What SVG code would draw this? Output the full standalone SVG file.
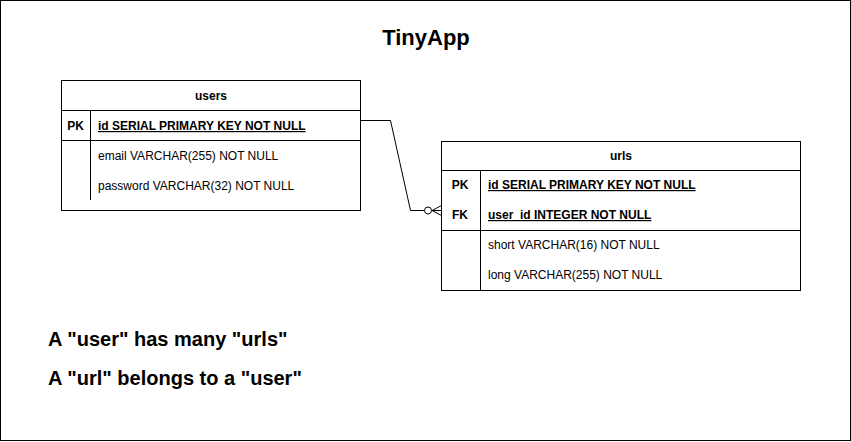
<svg xmlns="http://www.w3.org/2000/svg" width="851" height="442" viewBox="0 0 851 442">
<style>
.box{fill:#fff;stroke:#000;stroke-width:1}
.ln{stroke:#000;stroke-width:1;fill:none}
.t{font-family:"Liberation Sans",Arial,Helvetica,sans-serif;font-size:12px;fill:#000}
.b{font-weight:bold}
.u{text-decoration:underline}
.big{font-family:"Liberation Sans",Arial,Helvetica,sans-serif;font-weight:bold;fill:#000}
</style>
<rect x="0.5" y="0.5" width="850" height="440" fill="#fff" stroke="#000" stroke-width="1"/>
<text class="big" x="426" y="45" font-size="22" text-anchor="middle">TinyApp</text>
<g id="users">
<rect class="box" x="61.5" y="80.5" width="299" height="130"/>
<line class="ln" x1="61.5" y1="110.5" x2="360.5" y2="110.5"/>
<line class="ln" x1="61.5" y1="140.5" x2="360.5" y2="140.5"/>
<line class="ln" x1="90.5" y1="110.5" x2="90.5" y2="200"/>
<text class="t b" x="211" y="100" text-anchor="middle">users</text>
<text class="t b" x="75.5" y="130" text-anchor="middle">PK</text>
<text class="t b u" x="98" y="130">id SERIAL PRIMARY KEY NOT NULL</text>
<text class="t" x="98" y="160">email VARCHAR(255) NOT NULL</text>
<text class="t" x="98" y="190">password VARCHAR(32) NOT NULL</text>
</g>
<g id="urls">
<rect class="box" x="441.5" y="141.5" width="359" height="149"/>
<line class="ln" x1="441.5" y1="170.5" x2="800.5" y2="170.5"/>
<line class="ln" x1="441.5" y1="230.5" x2="800.5" y2="230.5"/>
<line class="ln" x1="480.5" y1="170.5" x2="480.5" y2="290.5"/>
<text class="t b" x="621" y="160" text-anchor="middle">urls</text>
<text class="t b" x="460" y="189" text-anchor="middle">PK</text>
<text class="t b u" x="488" y="189">id SERIAL PRIMARY KEY NOT NULL</text>
<text class="t b" x="460" y="219" text-anchor="middle">FK</text>
<text class="t b u" x="488" y="219">user_id INTEGER NOT NULL</text>
<text class="t" x="488" y="249">short VARCHAR(16) NOT NULL</text>
<text class="t" x="488" y="279">long VARCHAR(255) NOT NULL</text>
</g>
<g id="connectors">
<path class="ln" d="M360.5 120.5 H390.5 L410.5 210.5 H424.5"/>
<circle class="ln" cx="428" cy="210.5" r="3.5" fill="#fff"/>
<path class="ln" d="M431.5 210.5 H441.5 M432 210.5 L441.5 205.5 M432 210.5 L441.5 215.5"/>
</g>
<text class="big" x="48" y="346" font-size="20">A "user" has many "urls"</text>
<text class="big" x="48" y="385" font-size="20">A "url" belongs to a "user"</text>
</svg>
